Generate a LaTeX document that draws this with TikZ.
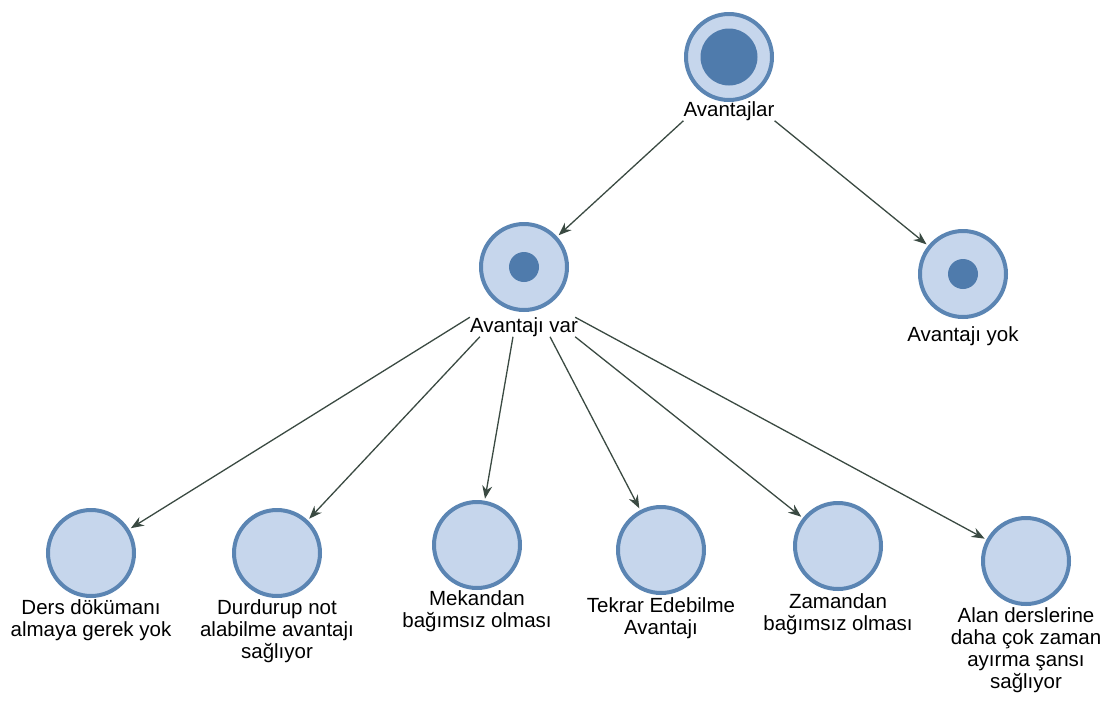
\documentclass[tikz,border=0pt]{standalone}
\usepackage{fontspec}
\setmainfont{Liberation Sans}
\usepackage{tikz}
\usetikzlibrary{arrows.meta}

\definecolor{ringblue}{HTML}{5B85B3}
\definecolor{fillblue}{HTML}{C6D6EC}
\definecolor{dotblue}{HTML}{4F7BAC}
\definecolor{edgegreen}{HTML}{3A4A42}

\tikzset{
  goal/.style={circle, draw=ringblue, line width=4pt, fill=fillblue, minimum size=86pt, inner sep=0pt},
  dot/.style={circle, fill=dotblue, inner sep=0pt},
  lbl/.style={align=center, inner sep=0pt, font=\fontsize{20.5}{22}\selectfont},
  link/.style={draw=edgegreen, line width=1.3pt, -{Stealth[length=13pt,width=10pt]}, shorten >=2pt}
}

\begin{document}
\begin{tikzpicture}[x=1pt,y=-1pt]
\useasboundingbox (0,0) rectangle (1114,702);
% Root
\node[goal] (root) at (729,57) {};
\node[dot, minimum size=57pt] (rootdot) at (root) {};
\node[lbl] (rootl) at (729,111) {Avantajlar};
% Second level
\node[goal] (var) at (524,267) {};
\node[dot, minimum size=30pt] (vardot) at (var) {};
\node[lbl] (varl) at (524,327) {Avantajı var};
\node[goal] (yok) at (963,274) {};
\node[dot, minimum size=30pt] (yokdot) at (yok) {};
\node[lbl] (yokl) at (963,336) {Avantajı yok};
% Leaves
\node[goal] (ders) at (91,553) {};
\node[lbl] (dersl) at (91,620) {Ders dökümanı\\almaya gerek yok};
\node[goal] (durd) at (277,553) {};
\node[lbl] (durdl) at (277,631) {Durdurup not\\alabilme avantajı\\sağlıyor};
\node[goal] (mek) at (477,545) {};
\node[lbl] (mekl) at (477,611) {Mekandan\\bağımsız olması};
\node[goal] (tek) at (661,550) {};
\node[lbl] (tekl) at (661,618) {Tekrar Edebilme\\Avantajı};
\node[goal] (zam) at (838,546) {};
\node[lbl] (zaml) at (838,614) {Zamandan\\bağımsız olması};
\node[goal] (alan) at (1026,561) {};
\node[lbl] (alanl) at (1026,650) {Alan derslerine\\daha çok zaman\\ayırma şansı\\sağlıyor};
% Links from root
\draw[link] (rootl.south west) -- (var);
\draw[link] (rootl.south east) -- (yok);
% Links from Avantaji var
\draw[link] (varl.north west) -- (ders);
\draw[link] ([xshift=10pt]varl.south west) -- (durd);
\draw[link] ([xshift=-11pt]varl.south) -- (mek);
\draw[link] ([xshift=26pt]varl.south) -- (tek);
\draw[link] ([xshift=-3pt]varl.south east) -- (zam);
\draw[link] ([xshift=-3pt]varl.north east) -- (alan);
\end{tikzpicture}
\end{document}
